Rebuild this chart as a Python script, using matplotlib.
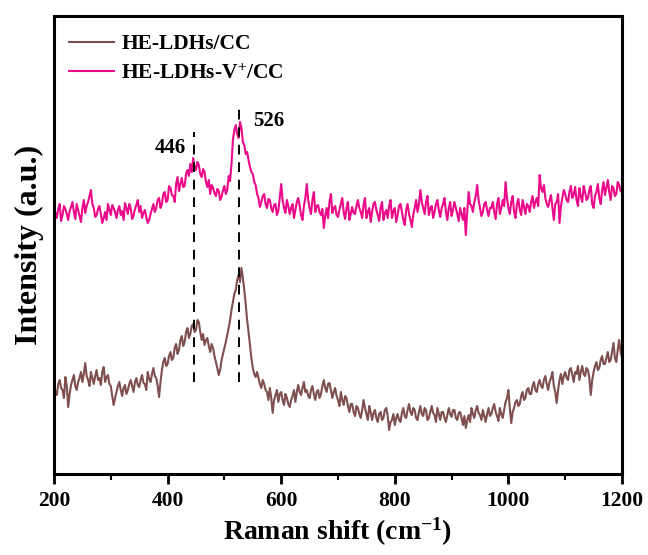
import numpy as np
import matplotlib
matplotlib.use("Agg")
import matplotlib.pyplot as plt
from matplotlib.ticker import MultipleLocator

plt.rcParams['font.family'] = ['Liberation Serif', 'DejaVu Serif']
plt.rcParams['font.weight'] = 'bold'
plt.rcParams['mathtext.fontset'] = 'custom'
plt.rcParams['mathtext.rm'] = 'Liberation Serif:bold'
plt.rcParams['mathtext.it'] = 'Liberation Serif:bold'
plt.rcParams['mathtext.bf'] = 'Liberation Serif:bold'
plt.rcParams['mathtext.default'] = 'rm'

# Raman shift grid (cm^-1), 2.5 cm^-1 steps
raman_shift = np.linspace(200, 1200, 401)

# HE-LDHs/CC intensity (a.u., offset trace)
intensity_ldh = [
    83, 78, 75, 86, 90, 82, 80, 72, 93, 84, 63, 76, 85, 90, 95, 84, 80, 88, 92, 98,
    88, 96, 107, 94, 90, 84, 98, 92, 86, 94, 100, 90, 92, 85, 98, 103, 88, 93, 95, 86,
    84, 74, 65, 72, 78, 84, 88, 80, 74, 82, 85, 76, 80, 86, 90, 84, 78, 88, 92, 85,
    83, 90, 95, 87, 86, 80, 98, 91, 88, 96, 102, 94, 92, 84, 73, 88, 100, 108, 112, 104,
    106, 114, 118, 110, 112, 122, 126, 116, 120, 130, 134, 124, 128, 138, 142, 132, 136, 144, 146, 138,
    140, 150, 148, 138, 130, 136, 125, 130, 132, 124, 118, 126, 122, 114, 108, 102, 95, 100, 110, 116,
    122, 128, 135, 142, 150, 160, 168, 176, 180, 190, 195, 188, 202, 192, 180, 166, 150, 138, 125, 112,
    102, 96, 93, 98, 92, 86, 82, 90, 86, 80, 78, 70, 82, 72, 57, 70, 75, 80, 68, 76,
    78, 70, 65, 76, 72, 66, 63, 70, 74, 80, 68, 78, 85, 78, 75, 82, 88, 78, 80, 74,
    72, 80, 84, 76, 70, 78, 80, 72, 76, 84, 90, 82, 78, 86, 87, 80, 72, 78, 82, 74,
    70, 64, 78, 70, 65, 74, 72, 64, 58, 66, 66, 58, 54, 64, 62, 56, 52, 60, 70, 62,
    56, 50, 64, 58, 50, 57, 60, 52, 48, 56, 58, 50, 52, 60, 62, 54, 40, 48, 50, 56,
    45, 52, 56, 50, 48, 57, 62, 54, 52, 60, 66, 58, 55, 62, 60, 52, 50, 58, 64, 56,
    54, 62, 60, 50, 52, 58, 64, 57, 55, 48, 62, 56, 50, 58, 58, 52, 48, 55, 62, 56,
    53, 60, 60, 52, 50, 57, 58, 52, 45, 54, 42, 50, 55, 48, 62, 56, 52, 60, 64, 57,
    55, 50, 60, 54, 48, 56, 62, 54, 56, 62, 66, 58, 54, 49, 62, 56, 52, 60, 68, 72,
    80, 62, 47, 58, 62, 68, 70, 64, 66, 74, 78, 70, 72, 80, 82, 76, 76, 84, 88, 80,
    78, 86, 90, 84, 82, 90, 94, 86, 80, 88, 92, 98, 84, 78, 67, 80, 90, 96, 86, 94,
    98, 92, 90, 100, 102, 95, 88, 98, 96, 104, 90, 98, 104, 96, 94, 102, 100, 92, 75, 90,
    98, 104, 108, 100, 102, 110, 114, 106, 106, 112, 118, 108, 110, 118, 127, 112, 108, 120, 130, 118,
    112,
]

# HE-LDHs-V+/CC intensity (a.u., offset trace)
intensity_ldh_v = [
    263, 257, 252, 261, 266, 249, 255, 264, 261, 256, 250, 259, 263, 268, 258, 251, 266, 260, 254, 248,
    262, 270, 257, 264, 268, 274, 280, 266, 262, 253, 255, 261, 264, 256, 247, 252, 258, 250, 266, 260,
    255, 265, 262, 258, 252, 260, 264, 255, 259, 250, 267, 262, 256, 266, 262, 251, 254, 261, 265, 270,
    258, 264, 252, 257, 260, 253, 247, 250, 256, 261, 266, 258, 262, 270, 272, 262, 266, 276, 278, 268,
    270, 284, 282, 275, 274, 268, 286, 293, 279, 286, 292, 283, 284, 296, 300, 294, 306, 298, 312, 303,
    300, 308, 305, 296, 293, 301, 298, 288, 283, 290, 276, 285, 282, 277, 274, 281, 279, 270, 273, 280,
    284, 276, 280, 294, 289, 306, 330, 340, 345, 336, 332, 348, 342, 328, 325, 316, 318, 310, 303, 298,
    296, 288, 285, 276, 272, 263, 268, 274, 276, 266, 262, 271, 270, 262, 258, 265, 266, 255, 259, 272,
    286, 270, 262, 257, 270, 264, 256, 262, 266, 252, 260, 268, 272, 264, 255, 250, 264, 272, 286, 270,
    262, 256, 270, 278, 258, 264, 265, 258, 255, 261, 242, 254, 262, 252, 268, 276, 257, 262, 264, 255,
    253, 260, 266, 272, 258, 251, 262, 268, 250, 256, 263, 257, 256, 264, 270, 262, 258, 252, 265, 272,
    252, 258, 262, 248, 258, 266, 268, 260, 255, 249, 262, 268, 250, 257, 260, 252, 264, 270, 252, 259,
    262, 248, 255, 264, 266, 258, 250, 245, 260, 266, 256, 250, 243, 255, 262, 270, 258, 266, 280, 268,
    262, 256, 268, 274, 255, 262, 264, 252, 258, 266, 270, 260, 253, 262, 266, 272, 258, 250, 262, 268,
    254, 260, 268, 262, 256, 249, 262, 256, 250, 262, 235, 258, 278, 266, 264, 258, 268, 274, 285, 270,
    262, 254, 258, 266, 268, 260, 254, 262, 262, 268, 258, 251, 266, 272, 256, 262, 270, 264, 288, 272,
    262, 256, 268, 274, 258, 252, 266, 271, 260, 255, 270, 263, 256, 266, 264, 258, 268, 274, 262, 268,
    272, 264, 295, 282, 278, 285, 272, 266, 263, 270, 275, 262, 250, 266, 268, 276, 247, 264, 272, 280,
    276, 270, 268, 278, 284, 272, 275, 283, 270, 264, 282, 274, 268, 284, 278, 270, 272, 280, 284, 266,
    262, 274, 278, 286, 272, 266, 280, 288, 275, 282, 290, 278, 270, 284, 282, 274, 276, 288, 285, 279,
    278,
]

# Peak markers
peak_positions = [446, 526]
peak_labels = ["446", "526"]

fig = plt.figure(figsize=(6.48, 5.55), dpi=100)
ax = fig.add_axes([54 / 648, 1 - 474 / 555, (622 - 54) / 648, (474 - 16) / 555])

ax.plot(raman_shift, intensity_ldh, color='#7f4f4f', lw=1.5, label='HE-LDHs/CC')
ax.plot(raman_shift, intensity_ldh_v, color='#ea0a8a', lw=1.5, label='HE-LDHs-V$^{+}$/CC')

ax.vlines(peak_positions[0], 88, 338, colors='black', linestyles=(0, (5, 4)), lw=1.4)
ax.vlines(peak_positions[1], 88, 362, colors='black', linestyles=(0, (5, 4)), lw=1.4)
ax.text(432, 322, peak_labels[0], ha='right', va='center', fontsize=15, fontweight='bold')
ax.text(551, 349, peak_labels[1], ha='left', va='center', fontsize=15, fontweight='bold')

ax.set_xlim(200, 1200)
ax.set_ylim(-4, 454)
ax.xaxis.set_major_locator(MultipleLocator(200))
ax.xaxis.set_minor_locator(MultipleLocator(100))
ax.set_yticks([])
ax.tick_params(axis='x', which='major', direction='out', length=7, width=2, labelsize=15.5, pad=5)
ax.tick_params(axis='x', which='minor', direction='out', length=4, width=1.5)
for lbl in ax.get_xticklabels():
    lbl.set_fontweight('bold')
for sp in ax.spines.values():
    sp.set_linewidth(2.2)

ax.set_xlabel('Raman shift (cm$^{-1}$)', fontsize=20, fontweight='bold', labelpad=4)
ax.set_ylabel('Intensity (a.u.)', fontsize=23, fontweight='bold', labelpad=7)

ax.legend(loc='upper left', bbox_to_anchor=(-0.012, 1.007), frameon=False,
          prop={'family': 'Liberation Serif', 'weight': 'bold', 'size': 15.5},
          handlelength=2.1, handletextpad=0.35, labelspacing=0.42, borderaxespad=0.6)

fig.savefig('out.png', dpi=100)
